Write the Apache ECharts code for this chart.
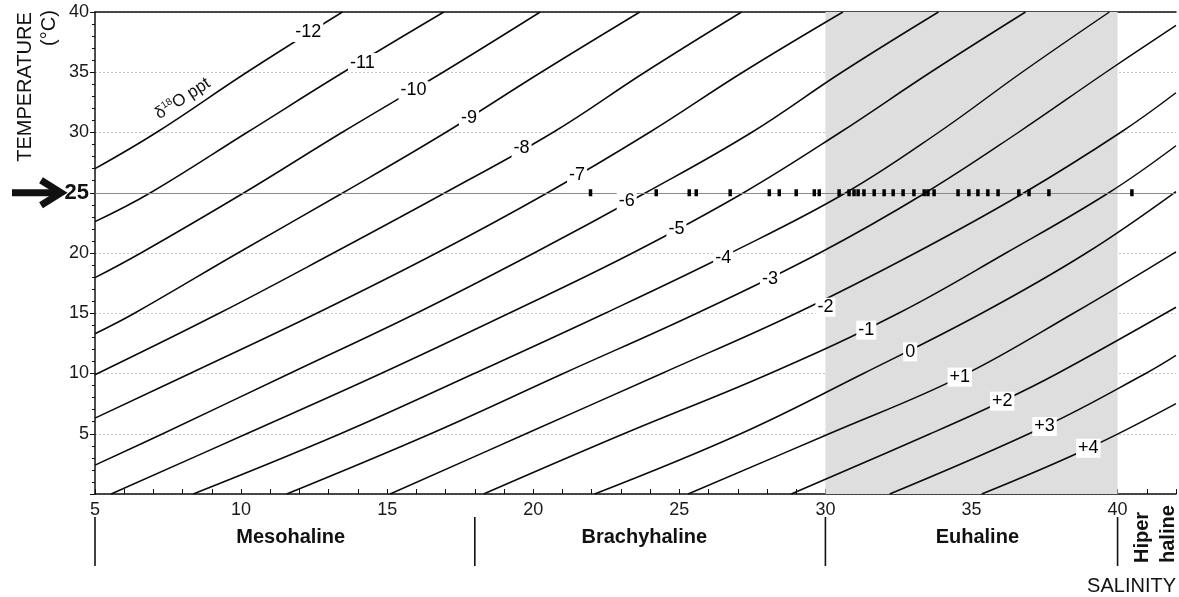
<!DOCTYPE html>
<html><head><meta charset="utf-8">
<script src="https://cdn.jsdelivr.net/npm/echarts@6/dist/echarts.min.js"></script>
<style>html,body{margin:0;padding:0;background:#fff}#c{width:1179px;height:597px}</style>
</head><body><div id="c"></div>
<script>
// ---- data (salinity, temperature °C) ----
const isoM12 = [[5,27.0],[7.1,30],[10.2,35],[13.47,40]];
const isoM11 = [[5,22.6],[6.9,25],[10.2,30],[13.5,35],[16.94,40]];
const isoM10 = [[5,17.95],[6.57,20],[10.1,25],[13.45,30],[16.91,35],[20.24,40]];
const isoM9  = [[5,13.3],[6.35,15],[9.89,20],[13.49,25],[17.0,30],[20.27,35],[23.65,40]];
const isoM8  = [[5,9.9],[9.25,15],[13.16,20],[16.98,25],[20.67,30],[23.82,35],[27.13,40]];
const isoM7  = [[5,6.3],[8.25,10],[12.59,15],[16.69,20],[20.49,25],[23.97,30],[27.17,35],[30.6,40]];
const isoM6  = [[5,2.4],[7.32,5],[11.66,10],[16.0,15],[20.03,20],[23.85,25],[27.47,30],[30.56,35],[33.87,40]];
const isoM5  = [[5.55,0],[10.19,5],[14.79,10],[19.17,15],[23.4,20],[27.2,25],[30.5,30],[33.6,35],[36.85,40]];
const isoM4  = [[8.36,0],[13.4,5],[17.98,10],[22.46,15],[26.75,20],[30.7,25],[33.87,30],[36.73,35],[39.72,40]];
const isoM3  = [[11.56,0],[16.49,5],[21.03,10],[25.6,15],[29.8,20],[33.43,25],[36.6,30],[39.6,35],[42,38.9]];
const isoM2  = [[15.1,0],[19.75,5],[24.4,10],[29.0,15],[33.08,20],[36.8,25],[40.1,30],[42,33.3]];
const isoM1  = [[18.3,0],[23.1,5],[28.1,10],[32.5,15],[36.18,20],[39.7,25],[42,28.9]];
const iso0   = [[22.1,0],[27.1,5],[31.3,10],[35.35,15],[38.93,20],[42,25.1]];
const isoP1  = [[25.3,0],[30.13,5],[34.6,9.7],[38.49,15],[42,20.1]];
const isoP2  = [[28.83,0],[33.59,5],[36.05,7.7],[37.94,10],[42,15.5]];
const isoP3  = [[32.2,0],[37.5,5.6],[40.96,10],[42,11.5]];
const isoP4  = [[35.35,0],[39.0,3.8],[42,7.5]];

const isoNames = ['-12','-11','-10','-9','-8','-7','-6','-5','-4','-3','-2','-1','0','+1','+2','+3','+4'];
const isoLines = [isoM12,isoM11,isoM10,isoM9,isoM8,isoM7,isoM6,isoM5,isoM4,isoM3,isoM2,isoM1,iso0,isoP1,isoP2,isoP3,isoP4];
const isoLabelAt = [[12.3,38.3],[14.15,35.8],[15.9,33.5],[17.8,31.2],[19.6,28.7],[21.5,26.5],[23.2,24.3],
  [24.9,22.0],[26.5,19.6],[28.1,17.8],[30.0,15.5],[31.4,13.6],[32.9,11.8],[34.6,9.7],[36.05,7.7],[37.5,5.6],[39.0,3.8]];

const sampleSalinity = [21.96,24.21,25.34,25.58,26.74,28.08,28.42,29.0,29.62,29.79,30.47,30.81,30.98,31.12,31.32,
  31.67,32.01,32.32,32.66,33.03,33.38,33.51,33.72,34.54,34.91,35.22,35.56,35.91,36.62,36.97,37.65,40.49];
const sampleTemp = 25;

const zoneBounds = [5,18,30,40];
const zoneNames = ['Mesohaline','Brachyhaline','Euhaline'];
const zoneLabelAt = [11.7,23.8,35.2];
const euhalineBand = [30,40];
const noteAt = [8.0,32.8];
const xRange = [5,42];
const yRange = [0,40];

const FONT = '"Liberation Sans", Arial, sans-serif';
const INK = '#111';

const series = [];
series.push({
  type:'line', data:[], z:-1, silent:true,
  markArea:{silent:true, itemStyle:{color:'#dedede'}, data:[[{xAxis:euhalineBand[0]},{xAxis:euhalineBand[1]}]]}
});
isoLines.forEach((d,i)=>{
  series.push({type:'line', name:isoNames[i], data:d, showSymbol:false, smooth:0.4,
    lineStyle:{color:'#0a0a0a', width:1.5}, z:3, silent:true});
});
series.push({
  type:'scatter', data: isoLabelAt.map((p,i)=>({name:isoNames[i], value:p})),
  symbolSize:2, itemStyle:{color:'rgba(0,0,0,0)', opacity:1}, z:6, silent:true,
  label:{show:true, position:'inside', formatter:'{b}', fontFamily:FONT, fontSize:18, color:'#000',
    backgroundColor:'#ffffff', padding:[1,2,0,2], lineHeight:18}
});
series.push({
  type:'scatter', data: sampleSalinity.map(s=>[s,sampleTemp]), symbol:'rect', symbolSize:[3.5,7],
  itemStyle:{color:'#000', opacity:1}, z:7, silent:true,
  markLine:{silent:true, symbol:['none','none'], label:{show:false}, lineStyle:{color:'#8a8a8a', type:'solid', width:1},
    data:[{yAxis:sampleTemp}]}
});

const option = {
  animation:false,
  backgroundColor:'#fff',
  grid:{left:95, right:2, top:12, bottom:103, containLabel:false},
  xAxis:[{
    type:'value', min:xRange[0], max:xRange[1], interval:1,
    axisLine:{lineStyle:{color:INK, width:1.5}},
    axisTick:{inside:true, length:5, lineStyle:{color:INK}},
    axisLabel:{formatter:v=> (v%5===0 && v<=40) ? String(v) : '', fontFamily:FONT, fontSize:18, color:'#1a1a1a', margin:7},
    splitLine:{show:false}
  },{
    type:'value', position:'top', min:xRange[0], max:xRange[1],
    axisLine:{show:true, lineStyle:{color:INK, width:1.5}}, axisTick:{show:false}, axisLabel:{show:false}, splitLine:{show:false}
  }],
  yAxis:{
    type:'value', min:yRange[0], max:yRange[1], interval:5,
    axisLine:{show:true, lineStyle:{color:INK, width:1.5}},
    axisTick:{show:true, length:5, lineStyle:{color:INK}},
    minorTick:{show:true, splitNumber:5, length:3, lineStyle:{color:INK}},
    axisLabel:{fontFamily:FONT, fontSize:18, color:'#1a1a1a', margin:6,
      formatter:v=> v===0 ? '' : (v===25 ? '{b|25}' : String(v)),
      rich:{b:{fontFamily:FONT, fontSize:22, fontWeight:'bold', color:INK}}},
    splitLine:{show:true, lineStyle:{color:'#c4c4c4', type:[2,2], width:1}}
  },
  series
};

const chart = echarts.init(document.getElementById('c'), null, {renderer:'canvas'});
chart.setOption(option);

const px = s => chart.convertToPixel({xAxisIndex:0}, s);
const py = t => chart.convertToPixel({yAxisIndex:0}, t);
const graphics = [];
zoneBounds.forEach(s=>{
  graphics.push({type:'line', shape:{x1:px(s), y1:517, x2:px(s), y2:566}, style:{stroke:INK, lineWidth:1.6}});
});
zoneNames.forEach((n,i)=>{
  graphics.push({type:'text', x:px(zoneLabelAt[i]), y:537,
    style:{text:n, font:'bold 20px '+FONT, fill:INK, align:'center', verticalAlign:'middle', textAlign:'center', textVerticalAlign:'middle'}});
});
graphics.push({type:'text', x:1155, y:563, rotation:Math.PI/2,
  style:{text:'Hiper\nhaline', font:'bold 20px '+FONT, fill:INK, lineHeight:26, align:'left', verticalAlign:'middle', textAlign:'left', textVerticalAlign:'middle'}});
graphics.push({type:'text', x:1176, y:586,
  style:{text:'SALINITY', font:'20px '+FONT, fill:INK, align:'right', verticalAlign:'middle', textAlign:'right', textVerticalAlign:'middle'}});
graphics.push({type:'text', x:25, y:87, rotation:Math.PI/2,
  style:{text:'TEMPERATURE', font:'20px '+FONT, fill:INK, align:'center', verticalAlign:'middle', textAlign:'center', textVerticalAlign:'middle'}});
graphics.push({type:'text', x:49, y:28, rotation:Math.PI/2,
  style:{text:'(°C)', font:'20px '+FONT, fill:INK, align:'center', verticalAlign:'middle', textAlign:'center', textVerticalAlign:'middle'}});
const ay = py(sampleTemp);
graphics.push({type:'polyline', shape:{points:[[12,ay],[56,ay]]}, style:{stroke:INK, lineWidth:7, fill:null}});
graphics.push({type:'polyline', shape:{points:[[41,ay-12.5],[61,ay],[41,ay+12.5]]}, style:{stroke:INK, lineWidth:7, lineJoin:'miter', fill:null}});
graphics.push({type:'text', x:px(noteAt[0]), y:py(noteAt[1]), rotation:33*Math.PI/180,
  style:{text:'{a|δ}{s|18}{a|O ppt}', fill:INK, align:'center', verticalAlign:'middle', textAlign:'center', textVerticalAlign:'middle',
    rich:{a:{fontFamily:FONT, fontSize:17, color:INK}, s:{fontFamily:FONT, fontSize:10, color:INK, padding:[0,0,9,0]}}}});
chart.setOption({graphic:graphics});
</script>
</body></html>
